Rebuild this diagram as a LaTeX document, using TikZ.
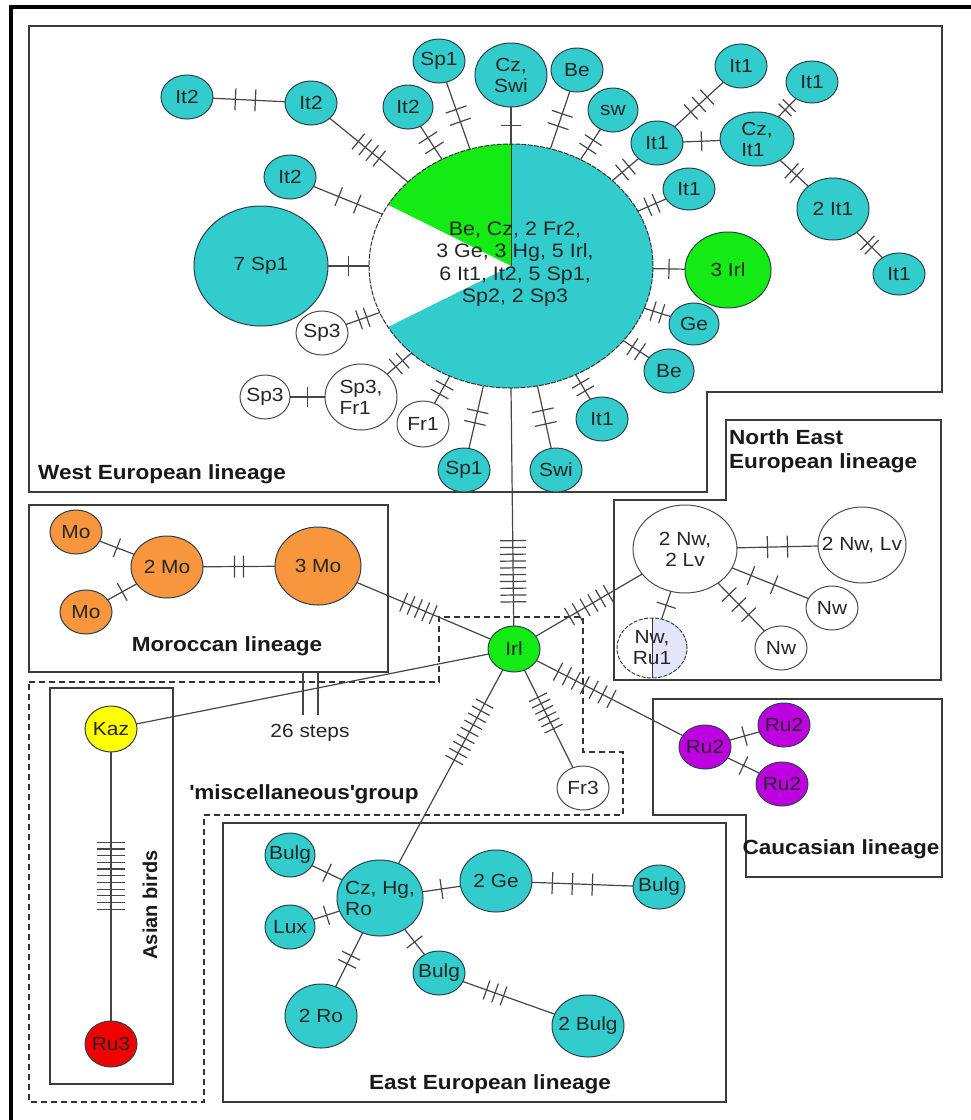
\documentclass[tikz,border=0pt]{standalone}
\usepackage{fontspec}
\usetikzlibrary{shapes.geometric,decorations.markings}
\newfontfamily\nf[FakeStretch=1.1]{Liberation Sans}
\newfontfamily\nfb{Liberation Sans}
\definecolor{tealc}{RGB}{51,204,204}
\definecolor{grn}{RGB}{20,235,20}
\definecolor{orc}{RGB}{247,150,60}
\definecolor{yel}{RGB}{255,255,0}
\definecolor{redc}{RGB}{240,0,0}
\definecolor{pur}{RGB}{190,0,225}
\definecolor{lav}{RGB}{228,228,250}
\definecolor{edgc}{RGB}{45,65,75}
\definecolor{linec}{RGB}{70,70,70}
\definecolor{boxc}{RGB}{60,60,60}
\tikzset{
  hap/.style={ellipse,draw=edgc,line width=1pt,inner sep=0pt,outer sep=0pt},
  tq/.style={fill=tealc},
  wh/.style={fill=white,draw=black!70},
  gr/.style={fill=grn},
  orn/.style={fill=orc},
  yl/.style={fill=yel},
  rd/.style={fill=redc},
  pu/.style={fill=pur},
  lab/.style={font=\nf\fontsize{19}{21}\selectfont,text=black!85,align=center,inner sep=0pt},
  ttl/.style={font=\nf\bfseries\fontsize{20.5}{24}\selectfont,text=black!90,inner sep=0pt},
  box/.style={draw=boxc,line width=1.6pt},
  dbox/.style={draw=black!80,line width=1.4pt,dash pattern=on 6pt off 4pt},
  link/.style={draw=linec,line width=1.2pt},
  tk/.style n args={4}{postaction={decorate,decoration={markings,mark=at position #2 with {\foreach \k in {1,...,#1}{\draw[link] ({(\k-(#1+1)/2)*#3},-#4) -- ({(\k-(#1+1)/2)*#3},#4);}}}}},
  hk/.style={tk={#1}{0.5}{10}{10}}
}
\newcommand\hn[8][]{%
  \node[hap,#7,minimum width=2*#5pt,minimum height=2*#6pt] (#2) at (#3,#4) {};
  \node[lab,#1] (#2-l) at (#2) {#8};}

\begin{document}
\begin{tikzpicture}[x=1pt,y=-1pt]
\useasboundingbox (0,0) rectangle (971,1120);
\fill[white] (0,0) rectangle (971,1120);
\draw[line width=4pt,black] (11,1125) -- (11,7) -- (975,7);

% boxes
\draw[box] (29,26) -- (942,26) -- (942,392) -- (707,392) -- (707,492) -- (29,492) -- cycle;
\draw[box] (29,505) rectangle (388,672);
\draw[box] (726,420) -- (941,420) -- (941,680) -- (614,680) -- (614,500) -- (726,500) -- cycle;
\draw[box] (653,699) -- (942,699) -- (942,877) -- (746,877) -- (746,815) -- (653,815) -- cycle;
\draw[box] (223,823) rectangle (726,1102);
\draw[box] (50,688) rectangle (173,1084);
\draw[dbox] (29,682) -- (439,682) -- (439,617) -- (583,617) -- (583,752) -- (623,752) -- (623,815) -- (204,815) -- (204,1102) -- (29,1102) -- cycle;

% titles
\node[ttl,anchor=west] (t-we) at (38,474) {West European lineage};
\node[ttl] (t-mo) at (227,646) {Moroccan lineage};
\node[ttl,anchor=west,align=left] (t-ne) at (729,451) {North East\\European lineage};
\node[ttl] (t-ca) at (841,849) {Caucasian lineage};
\node[ttl] (t-ee) at (490,1084) {East European lineage};
\node[ttl] (t-mi) at (304,794) {\textquotesingle miscellaneous\textquotesingle group};
\node[ttl,font=\nfb\bfseries\fontsize{20}{24}\selectfont,rotate=90] (t-as) at (150,905) {Asian birds};
\node[lab] (t-26) at (310,733) {26 steps};

% big pie
\node[ellipse,minimum width=284pt,minimum height=244pt,inner sep=0pt,outer sep=0pt] (big) at (511,266) {};
\fill[grn] (big.center) -- ++(90:142pt and 122pt) arc[start angle=90,end angle=150,x radius=142pt,y radius=122pt] -- cycle;
\fill[white] (big.center) -- ++(150:142pt and 122pt) arc[start angle=150,end angle=210,x radius=142pt,y radius=122pt] -- cycle;
\fill[tealc] (big.center) -- ++(210:142pt and 122pt) arc[start angle=210,end angle=450,x radius=142pt,y radius=122pt] -- cycle;
\draw[black!80,line width=1pt] (big.center) -- (big.north);
\draw[black!80,line width=1pt,dash pattern=on 5pt off 1.2pt] (big.center) ellipse[x radius=142pt,y radius=122pt];
\node[lab,font=\nf\fontsize{19.5}{22.5}\selectfont] (big-l) at (515,264) {Be, Cz, 2 Fr2,\\3 Ge, 3 Hg, 5 Irl,\\6 It1, It2, 5 Sp1,\\Sp2, 2 Sp3};

% West nodes
\hn{ita}{187}{97}{26}{22}{tq}{It2}
\hn{itb}{311}{103}{26}{22}{tq}{It2}
\hn{itc}{290}{177}{26}{22}{tq}{It2}
\hn{sps}{261}{266}{67}{60}{tq}{7 Sp1}
\hn{spa}{322}{333}{26}{22}{wh}{Sp3}
\hn{spb}{265}{397}{25}{22}{wh}{Sp3}
\hn[align=left]{spf}{361}{397}{36}{33}{wh}{Sp3,\\Fr1}
\hn{fra}{423}{424}{26}{23}{wh}{Fr1}
\hn{spc}{464}{470}{26}{22}{tq}{Sp1}
\hn{swa}{556}{470}{26}{22}{tq}{Swi}
\hn{itk}{602}{419}{26}{22}{tq}{It1}
\hn{bea}{669}{371}{25}{22}{tq}{Be}
\hn{gea}{694}{324}{25}{21}{tq}{Ge}
\hn{irc}{728}{270}{43}{38}{gr}{3 Irl}
\hn{itd}{689}{189}{26}{21}{tq}{It1}
\hn{ite}{657}{143}{26}{22}{tq}{It1}
\hn{itf}{741}{66}{26}{22}{tq}{It1}
\hn[align=left]{czi}{757}{139}{37}{27}{tq}{Cz,\\It1}
\hn{itg}{812}{82}{26}{21}{tq}{It1}
\hn{iti}{833}{209}{36}{31}{tq}{2 It1}
\hn{ith}{899}{274}{26}{21}{tq}{It1}
\hn{swb}{613}{110}{25}{22}{tq}{sw}
\hn{beb}{577}{70}{26}{22}{tq}{Be}
\hn{czs}{511}{75}{36}{32}{tq}{Cz,\\Swi}
\hn{spd}{439}{61}{26}{22}{tq}{Sp1}
\hn{itj}{408}{107}{25}{22}{tq}{It2}

% Moroccan
\hn{moa}{76}{532}{26}{22}{orn}{Mo}
\hn{moc}{86}{612}{26}{22}{orn}{Mo}
\hn{mob}{167}{567}{36}{31}{orn}{2 Mo}
\hn{moe}{318}{566}{43}{39}{orn}{3 Mo}

% centre
\hn{irl}{514}{649}{26}{23}{gr}{Irl}
\hn{fr3}{583}{788}{26}{22}{wh}{Fr3}

% North East
\hn{nwl}{685}{549}{52}{44}{wh}{2 Nw,\\2 Lv}
\hn{nwv}{862}{545}{44}{38}{wh}{2 Nw, Lv}
\hn{nwa}{832}{608}{26}{22}{wh}{Nw}
\hn{nwb}{781}{648}{26}{22}{wh}{Nw}
\node[hap,fill=white,draw=none,minimum width=70pt,minimum height=60pt] (nwr) at (652,648) {};
\fill[lav] (nwr.north) arc[start angle=90,end angle=-90,x radius=35pt,y radius=30pt] -- cycle;
\draw[black!75,line width=1pt,dash pattern=on 4pt off 1.5pt] (nwr.center) ellipse[x radius=35pt,y radius=30pt];
\draw[black!80,line width=1pt] (nwr.north) -- (nwr.south);
\node[lab] (nwr-l) at (nwr) {Nw,\\Ru1};

% Caucasian
\hn{rua}{705}{747}{26}{22}{pu}{Ru2}
\hn{rub}{784}{725}{26}{22}{pu}{Ru2}
\hn{ruc}{782}{784}{26}{22}{pu}{Ru2}

% Asian
\hn{kaz}{111}{729}{26}{23}{yl}{Kaz}
\hn{ru3}{111}{1044}{26}{23}{rd}{Ru3}

% East
\hn[align=left]{czh}{380}{898}{43}{38}{tq}{Cz, Hg,\\Ro}
\hn{bga}{290}{855}{25}{22}{tq}{Bulg}
\hn{lux}{290}{927}{25}{22}{tq}{Lux}
\hn{ro2}{321}{1016}{36}{32}{tq}{2 Ro}
\hn{bgb}{439}{973}{26}{22}{tq}{Bulg}
\hn{bg2}{588}{1026}{36}{31}{tq}{2 Bulg}
\hn{ge2}{496}{881}{36}{31}{tq}{2 Ge}
\hn{bgc}{659}{887}{26}{22}{tq}{Bulg}

% links West
\draw[link,tk={2}{0.45}{20}{11}] (ita) -- (itb);
\draw[link,tk={4}{0.5}{9}{10}] (itb) -- (big);
\draw[link,tk={2}{0.5}{20}{10}] (itc) -- (big);
\draw[link,hk=1] (sps) -- (big);
\draw[link,tk={2}{0.5}{8}{10}] (spa) -- (big);
\draw[link,hk=1] (spb) -- (spf);
\draw[link,tk={2}{0.5}{9}{10}] (spf) -- (big);
\draw[link,tk={2}{0.5}{10}{10}] (fra) -- (big);
\draw[link,tk={2}{0.5}{12}{11}] (spc) -- (big);
\draw[link,tk={2}{0.5}{14}{11}] (swa) -- (big);
\draw[link,tk={2}{0.5}{9}{10}] (itk) -- (big);
\draw[link,tk={2}{0.5}{9}{10}] (bea) -- (big);
\draw[link,tk={2}{0.5}{9}{10}] (gea) -- (big);
\draw[link,hk=1] (irc) -- (big);
\draw[link,tk={2}{0.5}{9}{10}] (itd) -- (big);
\draw[link,tk={2}{0.5}{9}{10}] (ite) -- (big);
\draw[link,tk={3}{0.5}{11}{10}] (ite) -- (itf);
\draw[link,hk=1] (ite) -- (czi);
\draw[link,tk={2}{0.5}{6}{9}] (czi) -- (itg);
\draw[link,tk={2}{0.5}{7}{10}] (czi) -- (iti);
\draw[link,tk={2}{0.5}{6}{10}] (iti) -- (ith);
\draw[link,tk={2}{0.5}{10}{10}] (swb) -- (big);
\draw[link,tk={2}{0.5}{13}{11}] (beb) -- (big);
\draw[link,hk=1] (czs) -- (big);
\draw[link,tk={2}{0.5}{13}{11}] (spd) -- (big);
\draw[link,tk={2}{0.5}{12}{11}] (itj) -- (big);
\draw[link,tk={10}{0.77}{6.8}{13}] (big.south) -- (irl);
% Moroccan
\draw[link,hk=1] (moa) -- (mob);
\draw[link,hk=1] (moc) -- (mob);
\draw[link,tk={2}{0.5}{9}{11}] (mob) -- (moe);
\draw[link,tk={5}{0.46}{8}{10}] (moe) -- (irl);
% Asian
\draw[link] (kaz) -- (irl);
\draw[link] (303,672) -- (303,715);
\draw[link] (318,672) -- (318,715);
\draw[link,tk={11}{0.46}{6.7}{14}] (kaz) -- (ru3);
% North East
\draw[link,tk={6}{0.5}{9}{10}] (irl) -- (nwl);
\draw[link,tk={2}{0.5}{20}{11}] (nwl) -- (nwv);
\draw[link,tk={2}{0.4}{25}{10}] (nwl) -- (nwa);
\draw[link,tk={3}{0.45}{14}{10}] (nwl) -- (nwb);
\draw[link,hk=1] (nwl) -- (nwr);
% Caucasian
\draw[link,tk={7}{0.33}{10}{10}] (irl) -- (rua);
\draw[link,hk=1] (rua) -- (rub);
\draw[link,hk=1] (rua) -- (ruc);
% misc
\draw[link,tk={6}{0.44}{7}{10}] (irl) -- (fr3);
% East
\draw[link,tk={9}{0.32}{8}{10}] (irl) -- (czh);
\draw[link,hk=1] (bga) -- (czh);
\draw[link,hk=1] (lux) -- (czh);
\draw[link,tk={2}{0.5}{9}{10}] (czh) -- (ro2);
\draw[link,hk=1] (czh) -- (bgb);
\draw[link,tk={3}{0.35}{9}{10}] (bgb) -- (bg2);
\draw[link,hk=1] (czh) -- (ge2);
\draw[link,tk={3}{0.4}{20}{11}] (ge2) -- (bgc);
\end{tikzpicture}
\end{document}
